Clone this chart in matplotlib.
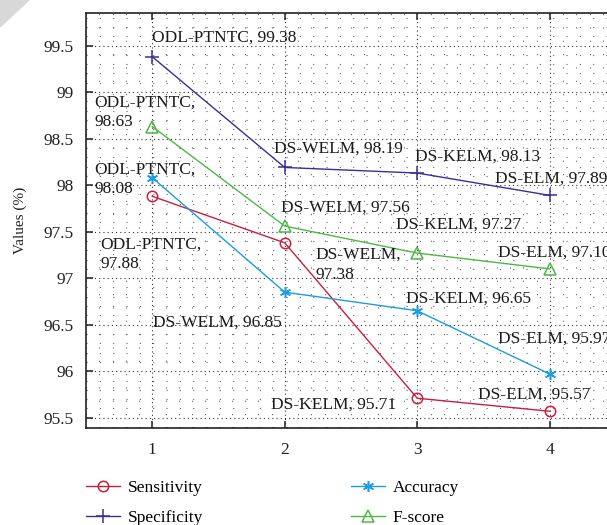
import matplotlib
matplotlib.use("Agg")
import matplotlib.pyplot as plt
from matplotlib.ticker import MultipleLocator
from matplotlib.patches import Polygon

x = [1, 2, 3, 4]
methods = ["ODL-PTNTC", "DS-WELM", "DS-KELM", "DS-ELM"]
sensitivity = [97.88, 97.38, 95.71, 95.57]
specificity = [99.38, 98.19, 98.13, 97.89]
accuracy = [98.08, 96.85, 96.65, 95.97]
fscore = [98.63, 97.56, 97.27, 97.10]

plt.rcParams["font.family"] = ["Liberation Serif", "DejaVu Serif"]
FS = 12.5

fig = plt.figure(figsize=(6.07, 5.25), dpi=100)
W, H = 607, 525
ax = fig.add_axes([86 / W, (H - 428) / H, (616 - 86) / W, (428 - 13) / H])

series = [
    ("Sensitivity", sensitivity, "#c91f3e", "o", 7.5, "none"),
    ("Specificity", specificity, "#3a2f96", "+", 10, None),
    ("Accuracy", accuracy, "#1c9de0", (6, 2, 0), 8, None),
    ("F-score", fscore, "#4db847", "^", 8.5, "none"),
]
handles = []
for name, vals, col, mk, ms, mfc in series:
    kw = dict(color=col, marker=mk, markersize=ms, linewidth=1.0,
              markeredgewidth=1.1, label=name, zorder=3)
    if mfc is not None:
        kw["markerfacecolor"] = mfc
    h, = ax.plot(x, vals, **kw)
    handles.append(h)

# label layout: (dx px, dy px, ha, split into two lines)
layout = {
    "Specificity": [(0, 19, "left", False), (-11, 19, "left", False),
                    (-2, 16, "left", False), (-55, 17, "left", False)],
    "F-score": [(-58, 14, "left", True), (-4, 18, "left", False),
                (-21, 28, "left", False), (-52, 16, "left", False)],
    "Accuracy": [(-58, -2, "left", True), (-132, -30, "left", False),
                 (-11, 12, "left", False), (-52, 35, "left", False)],
    "Sensitivity": [(-52, -58, "left", True), (31, -22, "left", True),
                    (-21, -6, "right", False), (-72, 17, "left", False)],
}
for name, vals, col, mk, ms, mfc in series:
    for i, (xi, v) in enumerate(zip(x, vals)):
        dx, dy, ha, two = layout[name][i]
        sep = ",\n" if two else ", "
        ax.annotate(f"{methods[i]}{sep}{v:.2f}", xy=(xi, v),
                    xytext=(dx, dy), textcoords="offset pixels",
                    ha=ha, va="center", fontsize=FS, color="#1a1a1a",
                    linespacing=1.3, annotation_clip=False, zorder=4)

ax.set_xlim(0.5, 4.5)
ax.set_ylim(95.39, 99.85)
ax.xaxis.set_minor_locator(MultipleLocator(0.1))
ax.yaxis.set_minor_locator(MultipleLocator(0.1))
ax.set_yticks([95.5, 96, 96.5, 97, 97.5, 98, 98.5, 99, 99.5])
ax.set_yticklabels(["95.5", "96", "96.5", "97", "97.5", "98", "98.5", "99", "99.5"])
ax.set_xticks(x)
ax.set_xticklabels([str(v) for v in x])

ax.grid(which="major", linestyle=(0, (1, 2.8)), linewidth=0.8, color="#333333")
ax.grid(which="minor", linestyle=(0, (1, 11)), linewidth=0.8, color="#666666")
ax.set_axisbelow(True)

ax.tick_params(which="major", direction="in", length=5, width=1.1,
               top=True, right=True, labelsize=FS, colors="#222222")
ax.tick_params(axis="y", which="major", pad=9)
ax.tick_params(axis="x", which="major", pad=10)
ax.tick_params(which="minor", length=0)
for s in ax.spines.values():
    s.set_linewidth(1.2)
    s.set_color("#222222")

ax.set_ylabel("Values (%)", fontsize=11, color="#222222", labelpad=12)

fig.legend(handles=handles,
           labels=["Sensitivity", "Specificity", "Accuracy", "F-score"],
           ncol=2, loc="upper left", bbox_to_anchor=(86 / W, 1 - 480 / H),
           frameon=False, fontsize=FS, handlelength=1.95, handletextpad=0.46,
           columnspacing=8.5, labelspacing=0.78, borderpad=0, borderaxespad=0)

# page-corner shade
fig.add_artist(Polygon([[0, 1], [30 / W, 1], [0, 1 - 28 / H]], closed=True,
                       transform=fig.transFigure, facecolor="#d8d8d8",
                       edgecolor="none"))

fig.savefig("out.png", dpi=100)
